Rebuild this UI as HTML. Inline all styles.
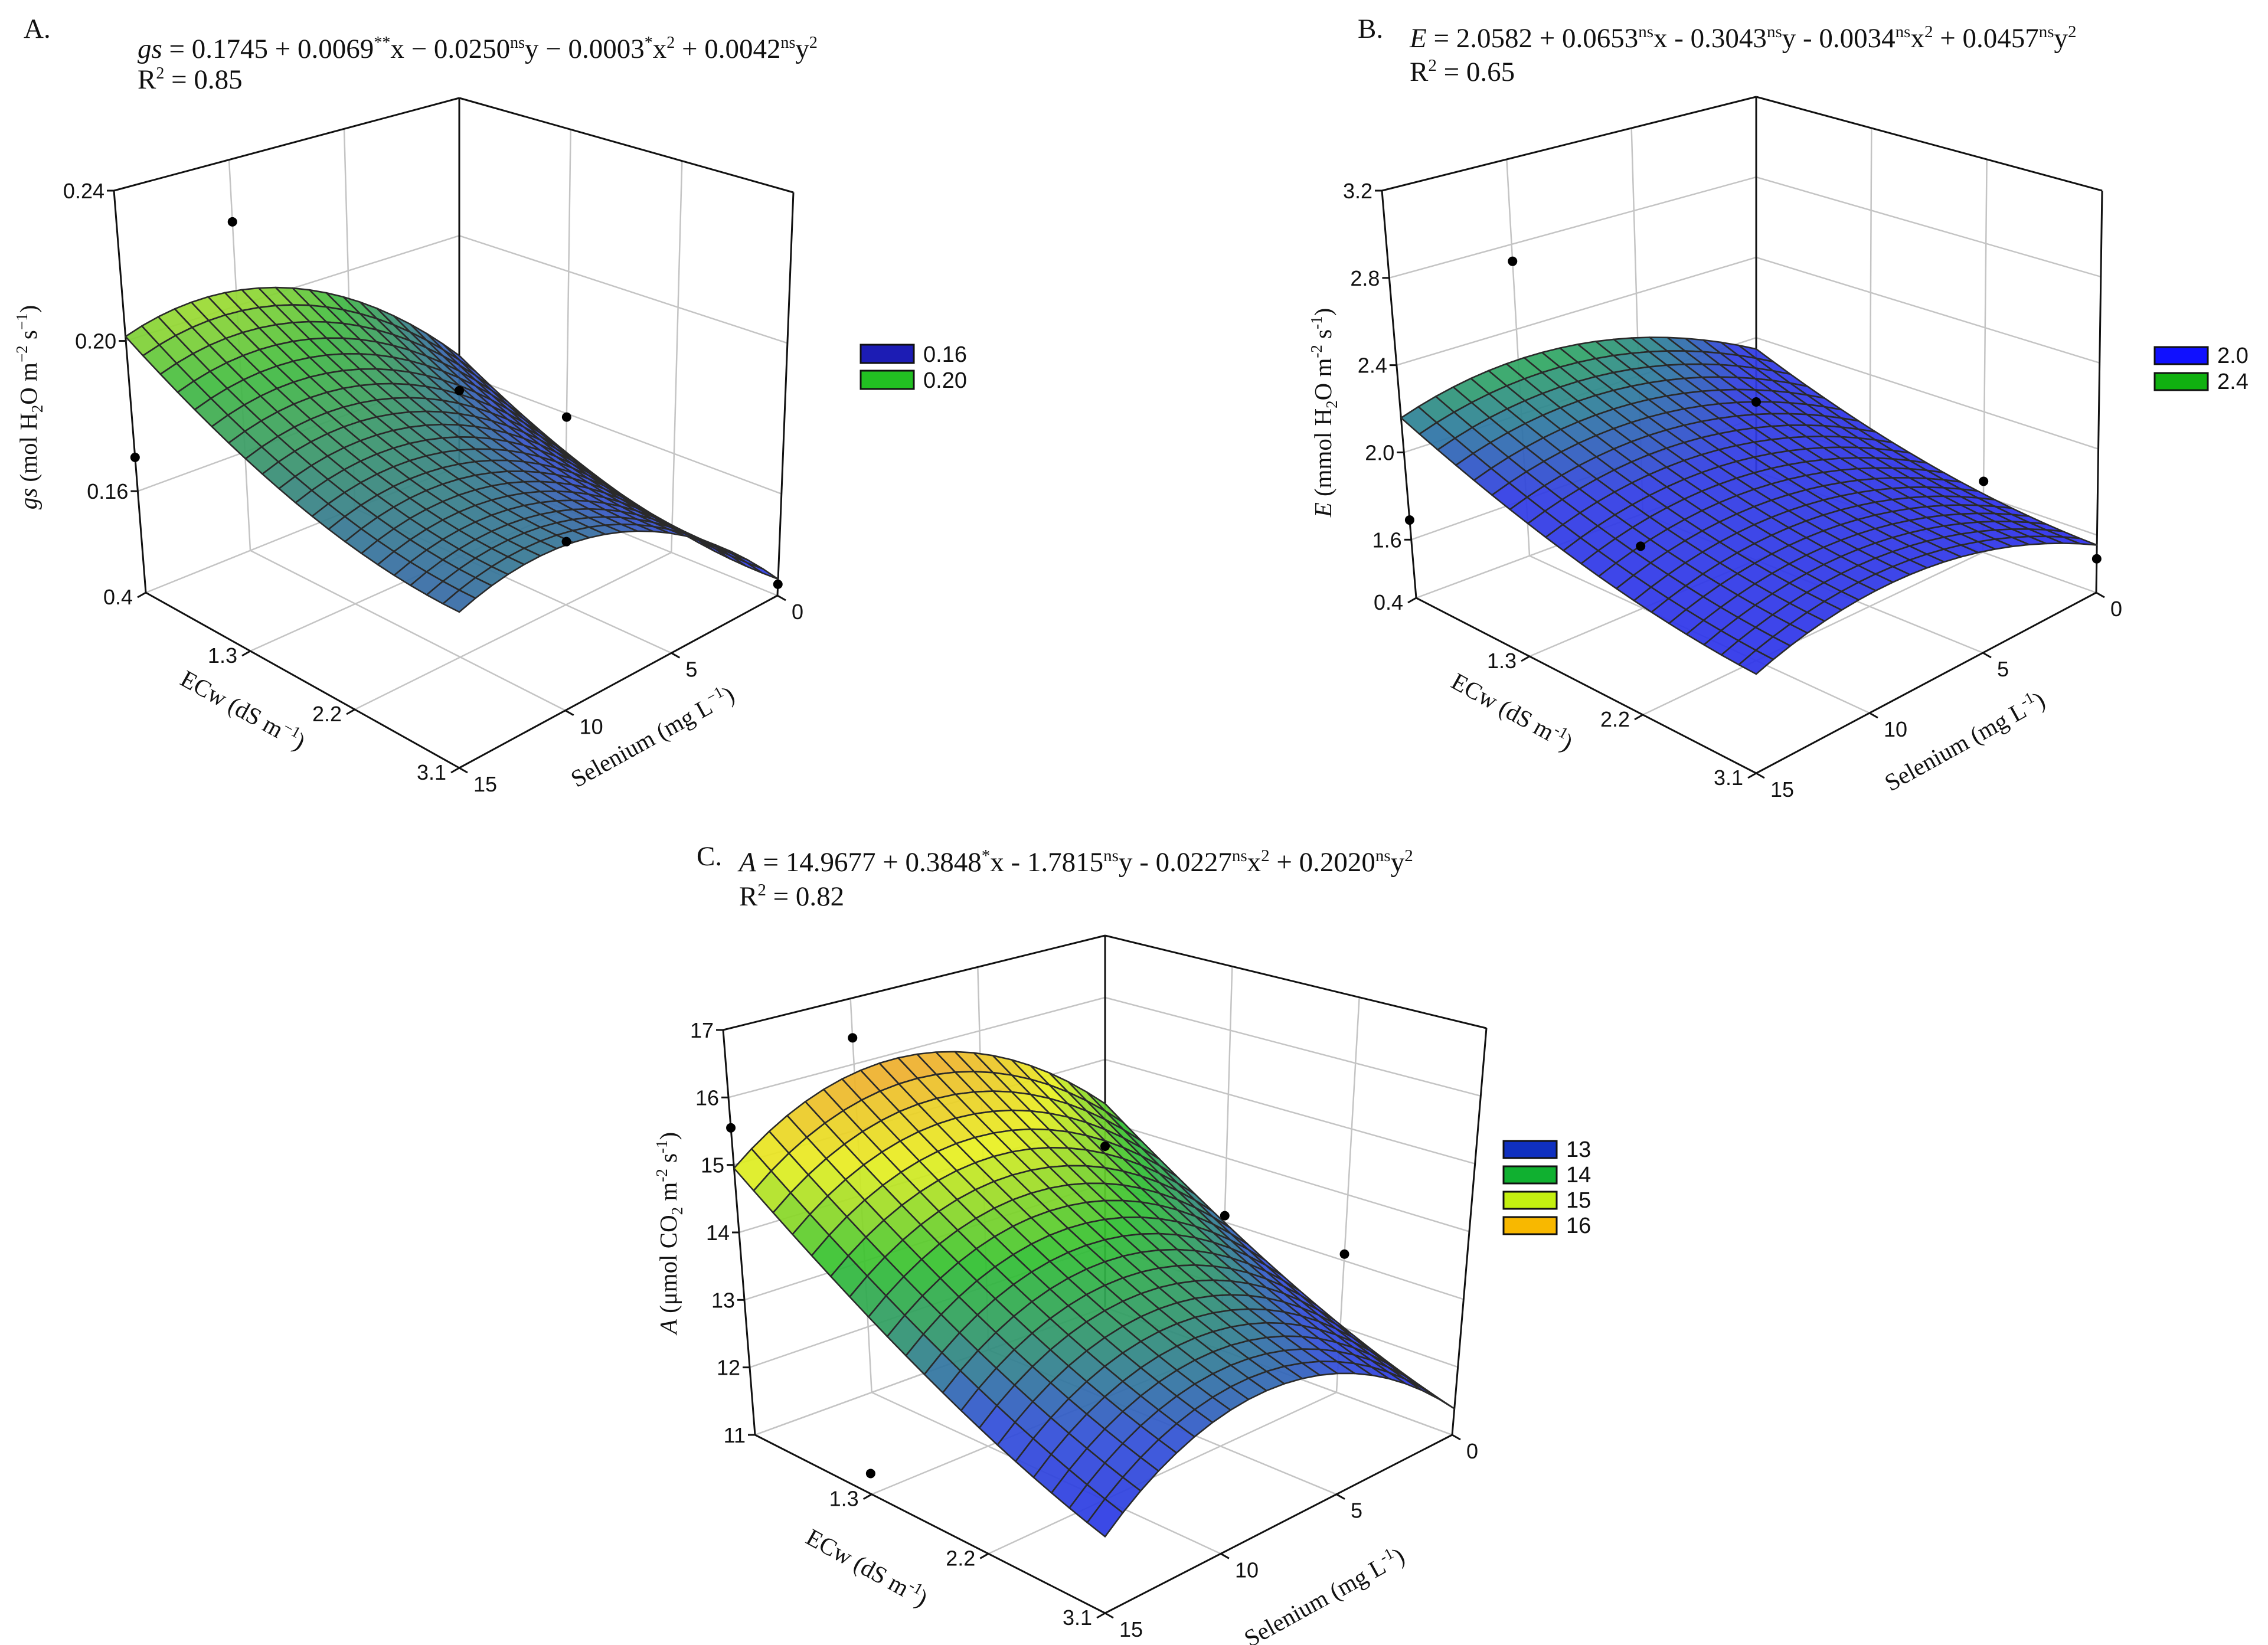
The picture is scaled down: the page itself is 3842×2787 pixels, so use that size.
<!DOCTYPE html>
<html><head><meta charset="utf-8"><style>
html,body{margin:0;padding:0;background:#fff;}
svg{display:block;}
.eq{font-family:"Liberation Serif",serif;font-size:47px;fill:#111;}
.tk{font-family:"Liberation Sans",sans-serif;font-size:36px;fill:#111;}
.ttl{font-family:"Liberation Serif",serif;font-size:41px;fill:#111;}
.lg{font-family:"Liberation Sans",sans-serif;font-size:38px;fill:#111;}
</style></head><body>
<svg id="fig" width="3842" height="2787" viewBox="0 0 3842 2787" xmlns="http://www.w3.org/2000/svg">
<rect width="3842" height="2787" fill="#fff"/>

<g>
<text class="eq" x="40" y="64" font-size="52">A.</text>
<text class="eq" x="233" y="98"><tspan font-style="italic">gs</tspan> = 0.1745 + 0.0069<tspan font-size="28" dy="-17">**</tspan><tspan dy="17">x − 0.0250</tspan><tspan font-size="28" dy="-17">ns</tspan><tspan dy="17">y − 0.0003</tspan><tspan font-size="28" dy="-17">*</tspan><tspan dy="17">x</tspan><tspan font-size="28" dy="-17">2</tspan><tspan dy="17"> + 0.0042</tspan><tspan font-size="28" dy="-17">ns</tspan><tspan dy="17">y</tspan><tspan font-size="28" dy="-17">2</tspan></text>
<text class="eq" x="233" y="150">R<tspan font-size="28" dy="-17">2</tspan><tspan dy="17"> = 0.85</tspan></text>
</g>
<g>
<text class="eq" x="2300" y="64" font-size="52">B.</text>
<text class="eq" x="2388" y="80" font-size="48"><tspan font-style="italic">E</tspan> = 2.0582 + 0.0653<tspan font-size="29" dy="-17">ns</tspan><tspan dy="17">x - 0.3043</tspan><tspan font-size="29" dy="-17">ns</tspan><tspan dy="17">y - 0.0034</tspan><tspan font-size="29" dy="-17">ns</tspan><tspan dy="17">x</tspan><tspan font-size="29" dy="-17">2</tspan><tspan dy="17"> + 0.0457</tspan><tspan font-size="29" dy="-17">ns</tspan><tspan dy="17">y</tspan><tspan font-size="29" dy="-17">2</tspan></text>
<text class="eq" x="2388" y="137" font-size="48">R<tspan font-size="29" dy="-17">2</tspan><tspan dy="17"> = 0.65</tspan></text>
</g>
<g>
<text class="eq" x="1180" y="1466" font-size="52">C.</text>
<text class="eq" x="1252" y="1476" font-size="49"><tspan font-style="italic">A</tspan> = 14.9677 + 0.3848<tspan font-size="29" dy="-17">*</tspan><tspan dy="17">x - 1.7815</tspan><tspan font-size="29" dy="-17">ns</tspan><tspan dy="17">y - 0.0227</tspan><tspan font-size="29" dy="-17">ns</tspan><tspan dy="17">x</tspan><tspan font-size="29" dy="-17">2</tspan><tspan dy="17"> + 0.2020</tspan><tspan font-size="29" dy="-17">ns</tspan><tspan dy="17">y</tspan><tspan font-size="29" dy="-17">2</tspan></text>
<text class="eq" x="1252" y="1534" font-size="49">R<tspan font-size="29" dy="-17">2</tspan><tspan dy="17"> = 0.82</tspan></text>
</g>

<text class="ttl" transform="translate(62,690) rotate(-90)" text-anchor="middle"><tspan font-style="italic">gs</tspan> (mol H<tspan font-size="27" dy="10">2</tspan><tspan dy="-10">O m</tspan><tspan font-size="27" dy="-16">−2</tspan><tspan dy="16"> s</tspan><tspan font-size="27" dy="-16">−1</tspan><tspan dy="16">)</tspan></text>
<text class="ttl" transform="translate(405,1215) rotate(29)" text-anchor="middle">ECw (dS m<tspan font-size="27" dy="-16">−1</tspan><tspan dy="16">)</tspan></text>
<text class="ttl" transform="translate(1112,1260) rotate(-29)" text-anchor="middle">Selenium (mg L<tspan font-size="27" dy="-16">−1</tspan><tspan dy="16">)</tspan></text>

<text class="ttl" transform="translate(2255,699) rotate(-90)" text-anchor="middle"><tspan font-style="italic">E</tspan> (mmol H<tspan font-size="27" dy="10">2</tspan><tspan dy="-10">O m</tspan><tspan font-size="27" dy="-16">-2</tspan><tspan dy="16"> s</tspan><tspan font-size="27" dy="-16">-1</tspan><tspan dy="16">)</tspan></text>
<text class="ttl" transform="translate(2555,1218) rotate(29)" text-anchor="middle">ECw (dS m<tspan font-size="27" dy="-16">-1</tspan><tspan dy="16">)</tspan></text>
<text class="ttl" transform="translate(3335,1268) rotate(-29)" text-anchor="middle">Selenium (mg L<tspan font-size="27" dy="-16">-1</tspan><tspan dy="16">)</tspan></text>

<text class="ttl" transform="translate(1146,2089) rotate(-90)" text-anchor="middle"><tspan font-style="italic">A</tspan> (μmol CO<tspan font-size="27" dy="10">2</tspan><tspan dy="-10"> m</tspan><tspan font-size="27" dy="-16">-2</tspan><tspan dy="16"> s</tspan><tspan font-size="27" dy="-16">-1</tspan><tspan dy="16">)</tspan></text>
<text class="ttl" transform="translate(1462,2668) rotate(29)" text-anchor="middle">ECw (dS m<tspan font-size="27" dy="-16">-1</tspan><tspan dy="16">)</tspan></text>
<text class="ttl" transform="translate(2250,2718) rotate(-29)" text-anchor="middle">Selenium (mg L<tspan font-size="27" dy="-16">-1</tspan><tspan dy="16">)</tspan></text>
</svg>
<script>
// ---- data ----
const ecwTicks = [0.4, 1.3, 2.2, 3.1];
const seTicks = [0, 5, 10, 15];
const coefA = [0.1745, 0.0069, -0.0250, -0.0003, 0.0042];   // b0, b1 x(Se), b2 y(ECw), b3 x^2, b4 y^2
const coefB = [2.0582, 0.0653, -0.3043, -0.0034, 0.0457];
const coefC = [14.9677, 0.3848, -1.7815, -0.0227, 0.2020];
const zTicksA = [0.16, 0.20, 0.24];
const zTicksB = [1.6, 2.0, 2.4, 2.8, 3.2];
const zTicksC = [11, 12, 13, 14, 15, 16, 17];
const zLabelsA = ["0.16", "0.20", "0.24"];
const zLabelsB = ["1.6", "2.0", "2.4", "2.8", "3.2"];
const zLabelsC = ["11", "12", "13", "14", "15", "16", "17"];
const ptsEcwA = [0.4, 0.4, 0.4, 1.3, 3.1, 2.2];
const ptsSeA  = [10, 15, 0, 0, 0, 5];
const ptsValA = [0.223, 0.169, 0.155, 0.159, 0.136, 0.150];
const ptsEcwB = [0.4, 0.4, 0.4, 2.2, 3.1, 1.3];
const ptsSeB  = [10, 15, 0, 0, 0, 10];
const ptsValB = [2.72, 1.69, 1.68, 1.67, 1.49, 1.62];
const ptsEcwC = [0.4, 0.4, 0.4, 1.3, 2.2, 1.3];
const ptsSeC  = [10, 15, 0, 0, 0, 15];
const ptsValC = [16.4, 15.55, 13.6, 13.1, 13.1, 11.3];
const legendA = ["0.16", "0.20"];
const legendB = ["2.0", "2.4"];
const legendC = ["13", "14", "15", "16"];

// ---- styles / geometry ----
const NS = "http://www.w3.org/2000/svg";
const svg = document.getElementById('fig');
const panels = [
 {id:'a', coef:coefA, zt:zTicksA, zl:zLabelsA, pe:ptsEcwA, ps:ptsSeA, pv:ptsValA, leg:legendA, firstEcw:true,
  legCol:['#1c1cb4','#22c022'], legX:1458, legY:584, legH:31, legGap:44,
  zmin:0.133, zmax:0.24,
  b00:[778,790], b10:[1317,1009], b01:[247,1004], b11:[778,1301],
  t00:[778,166], t10:[1344,326], t01:[193,323], t11:[778,601],
  stops:[[0.150,[46,60,226]],[0.168,[54,84,200]],[0.182,[56,140,120]],[0.194,[66,188,64]],[0.204,[160,220,50]],[0.212,[236,242,48]]]},
 {id:'b', coef:coefB, zt:zTicksB, zl:zLabelsB, pe:ptsEcwB, ps:ptsSeB, pv:ptsValB, leg:legendB, firstEcw:true,
  legCol:['#1010ff','#10b010'], legX:3650, legY:588, legH:29, legGap:44,
  zmin:1.333, zmax:3.2,
  b00:[2975,799], b10:[3551,1004], b01:[2399,1013], b11:[2975,1310],
  t00:[2975,164], t10:[3561,323], t01:[2341,323], t11:[2975,590],
  stops:[[1.5,[44,44,240]],[2.0,[48,60,228]],[2.15,[46,130,150]],[2.3,[50,192,64]]]},
 {id:'c', coef:coefC, zt:zTicksC, zl:zLabelsC, pe:ptsEcwC, ps:ptsSeC, pv:ptsValC, leg:legendC, firstEcw:false,
  legCol:['#1030c0','#10b030','#c4f010','#f8b800'], legX:2547, legY:1933, legH:29, legGap:43,
  zmin:11, zmax:17,
  b00:[1872,2215], b10:[2460,2431], b01:[1279,2431], b11:[1872,2733],
  t00:[1872,1585], t10:[2518,1742], t01:[1225,1745], t11:[1872,1993],
  stops:[[12.0,[42,52,232]],[12.8,[50,80,215]],[13.5,[48,150,110]],[14.1,[48,192,48]],[15,[232,240,32]],[16,[240,160,48]]]}
];
const nxOf = e => (e - 0.4) / 2.7;
const nyOf = s => s / 15;
function bil(a00,a10,a01,a11,u,v){return [a00[0]*(1-u)*(1-v)+a10[0]*u*(1-v)+a01[0]*(1-u)*v+a11[0]*u*v, a00[1]*(1-u)*(1-v)+a10[1]*u*(1-v)+a01[1]*(1-u)*v+a11[1]*u*v];}
function proj(p,u,v,w){const b=bil(p.b00,p.b10,p.b01,p.b11,u,v), t=bil(p.t00,p.t10,p.t01,p.t11,u,v);return [b[0]+(t[0]-b[0])*w, b[1]+(t[1]-b[1])*w];}
function zf(p,z){return (z-p.zmin)/(p.zmax-p.zmin);}
function model(c,ecw,se){return c[0]+c[1]*se+c[2]*ecw+c[3]*se*se+c[4]*ecw*ecw;}
function color(p,z){const s=p.stops; if(z<=s[0][0])return s[0][1]; for(let i=1;i<s.length;i++){if(z<=s[i][0]){const t=(z-s[i-1][0])/(s[i][0]-s[i-1][0]);return s[i-1][1].map((c,k)=>Math.round(c+(s[i][1][k]-c)*t));}} return s[s.length-1][1];}
function line(g,a,b,stroke,w){const l=document.createElementNS(NS,'line');l.setAttribute('x1',a[0]);l.setAttribute('y1',a[1]);l.setAttribute('x2',b[0]);l.setAttribute('y2',b[1]);l.setAttribute('stroke',stroke);l.setAttribute('stroke-width',w);g.appendChild(l);return l;}
function txt(g,x,y,s,anchor,cls){const t=document.createElementNS(NS,'text');t.setAttribute('x',x);t.setAttribute('y',y);t.setAttribute('text-anchor',anchor);t.setAttribute('class',cls);t.textContent=s;g.appendChild(t);return t;}

panels.forEach(p=>{
 const g=document.createElementNS(NS,'g');
 
 
 svg.appendChild(g);
 const grid=document.createElementNS(NS,'g');
 
 
 g.appendChild(grid);
 const gc='#c4c4c4';
 p.zt.forEach(z=>{const w=zf(p,z); line(grid,proj(p,0,1,w),proj(p,0,0,w),gc,2.5); line(grid,proj(p,0,0,w),proj(p,1,0,w),gc,2.5);});
 seTicks.forEach(s=>{const v=nyOf(s); line(grid,proj(p,0,v,0),proj(p,0,v,1),gc,2.5); line(grid,proj(p,0,v,0),proj(p,1,v,0),gc,2.5);});
 ecwTicks.forEach(e=>{const u=nxOf(e); line(grid,proj(p,u,0,0),proj(p,u,0,1),gc,2.5); line(grid,proj(p,u,0,0),proj(p,u,1,0),gc,2.5);});
 const ax=document.createElementNS(NS,'g');
 
 
 g.appendChild(ax);
 const k='#111';
 line(ax,proj(p,0,0,0),proj(p,0,0,1),k,3);
 line(ax,proj(p,0,1,0),proj(p,0,1,1),k,3);
 line(ax,proj(p,1,0,0),proj(p,1,0,1),k,3);
 line(ax,proj(p,0,1,1),proj(p,0,0,1),k,3);
 line(ax,proj(p,0,0,1),proj(p,1,0,1),k,3);
 line(ax,proj(p,0,1,0),proj(p,1,1,0),k,3);
 line(ax,proj(p,1,1,0),proj(p,1,0,0),k,3);
 const tg=document.createElementNS(NS,'g');
 
 
 g.appendChild(tg);
 p.zt.forEach((z,i)=>{const a=proj(p,0,1,zf(p,z)); line(tg,a,[a[0]-12,a[1]],k,3); txt(tg,a[0]-16,a[1]+13,p.zl[i],'end','tk');});
 ecwTicks.forEach((e,i)=>{if(i===0&&!p.firstEcw)return; const a=proj(p,nxOf(e),1,0); line(tg,a,[a[0]-14,a[1]+8],k,3); txt(tg,a[0]-22,a[1]+20,String(e),'end','tk');});
 seTicks.forEach(s=>{const a=proj(p,1,nyOf(s),0); line(tg,a,[a[0]+14,a[1]+8],k,3); txt(tg,a[0]+24,a[1]+40,String(s),'start','tk');});
 const sg=document.createElementNS(NS,'g');
 
 
 g.appendChild(sg);
 const N=20, cells=[];
 for(let i=0;i<N;i++)for(let j=0;j<N;j++)cells.push([i,j]);
 cells.sort((a,b)=>(a[0]+a[1])-(b[0]+b[1]));
 const val=(i,j)=>model(p.coef,0.4+2.7*i/N,15*j/N);
 cells.forEach(([i,j])=>{
  const c=[[i,j],[i+1,j],[i+1,j+1],[i,j+1]];
  const pts=c.map(([a,b])=>proj(p,a/N,b/N,zf(p,val(a,b))));
  const zm=(val(i,j)+val(i+1,j)+val(i+1,j+1)+val(i,j+1))/4;
  const col=color(p,zm);
  const poly=document.createElementNS(NS,'polygon');
  poly.setAttribute('points',pts.map(q=>q[0].toFixed(1)+','+q[1].toFixed(1)).join(' '));
  poly.setAttribute('fill','rgb('+col.join(',')+')');
  poly.setAttribute('fill-opacity','0.93');
  poly.setAttribute('stroke','#2a2a2a');
  poly.setAttribute('stroke-width','2.6');
  poly.setAttribute('stroke-linejoin','round');
  
  
  sg.appendChild(poly);
 });
 const pg=document.createElementNS(NS,'g');
 
 
 g.appendChild(pg);
 p.pv.forEach((v,i)=>{
  const q=proj(p,nxOf(p.pe[i]),nyOf(p.ps[i]),zf(p,v));
  const c=document.createElementNS(NS,'circle');
  c.setAttribute('cx',q[0]);c.setAttribute('cy',q[1]);c.setAttribute('r',8);c.setAttribute('fill','#000');
  
  
  pg.appendChild(c);
 });
 const lg=document.createElementNS(NS,'g');
 
 
 g.appendChild(lg);
 p.leg.forEach((s,i)=>{
  const y=p.legY+i*p.legGap;
  const r=document.createElementNS(NS,'rect');
  r.setAttribute('x',p.legX);r.setAttribute('y',y);r.setAttribute('width',90);r.setAttribute('height',p.legH);
  r.setAttribute('fill',p.legCol[i]);r.setAttribute('stroke','#111');r.setAttribute('stroke-width',3);
  
  
  lg.appendChild(r);
  const t=txt(lg,p.legX+106,y+p.legH-2,s,'start','lg');
  
  
 });
});
</script>
</body></html>
